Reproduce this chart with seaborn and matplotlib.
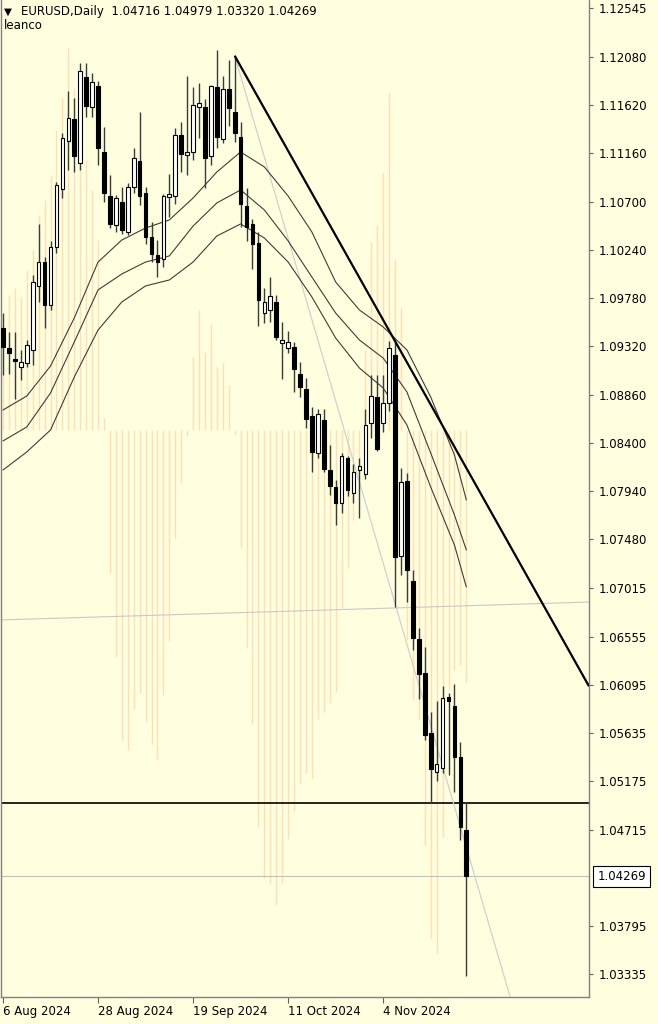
import numpy as np
import matplotlib
matplotlib.use("Agg")
import matplotlib.pyplot as plt
import seaborn as sns

# ---------------- data ----------------
dates = ["2024-08-06", "2024-08-07", "2024-08-08", "2024-08-09", "2024-08-12", "2024-08-13", "2024-08-14",
         "2024-08-15", "2024-08-16", "2024-08-19", "2024-08-20", "2024-08-21", "2024-08-22", "2024-08-23",
         "2024-08-26", "2024-08-27", "2024-08-28", "2024-08-29", "2024-08-30", "2024-09-02", "2024-09-03",
         "2024-09-04", "2024-09-05", "2024-09-06", "2024-09-09", "2024-09-10", "2024-09-11", "2024-09-12",
         "2024-09-13", "2024-09-16", "2024-09-17", "2024-09-18", "2024-09-19", "2024-09-20", "2024-09-23",
         "2024-09-24", "2024-09-25", "2024-09-26", "2024-09-27", "2024-09-30", "2024-10-01", "2024-10-02",
         "2024-10-03", "2024-10-04", "2024-10-07", "2024-10-08", "2024-10-09", "2024-10-10", "2024-10-11",
         "2024-10-14", "2024-10-15", "2024-10-16", "2024-10-17", "2024-10-18", "2024-10-21", "2024-10-22",
         "2024-10-23", "2024-10-24", "2024-10-25", "2024-10-28", "2024-10-29", "2024-10-30", "2024-10-31",
         "2024-11-01", "2024-11-04", "2024-11-05", "2024-11-06", "2024-11-07", "2024-11-08", "2024-11-11",
         "2024-11-12", "2024-11-13", "2024-11-14", "2024-11-15", "2024-11-18", "2024-11-19", "2024-11-20",
         "2024-11-21", "2024-11-22"]

opens = [1.0950, 1.0930, 1.0920, 1.0912, 1.0916, 1.0929, 1.0990, 1.1012, 1.0971, 1.1027,
         1.1082, 1.1128, 1.1149, 1.1107, 1.1189, 1.1160, 1.1180, 1.1117, 1.1075, 1.1048,
         1.1070, 1.1041, 1.1084, 1.1109, 1.1078, 1.1036, 1.1019, 1.1015, 1.1074, 1.1075,
         1.1133, 1.1114, 1.1117, 1.1160, 1.1160, 1.1113, 1.1179, 1.1130, 1.1177, 1.1155,
         1.1132, 1.1066, 1.1049, 1.1031, 1.0964, 1.0967, 1.0974, 1.0935, 1.0930, 1.0931,
         1.0906, 1.0891, 1.0866, 1.0830, 1.0862, 1.0814, 1.0798, 1.0783, 1.0826, 1.0792,
         1.0814, 1.0810, 1.0859, 1.0884, 1.0859, 1.0878, 1.0924, 1.0732, 1.0804, 1.0708,
         1.0653, 1.0621, 1.0564, 1.0526, 1.0530, 1.0598, 1.0589, 1.0541, 1.04716]
highs = [1.0964, 1.0946, 1.0946, 1.0929, 1.0938, 1.1000, 1.1049, 1.1017, 1.1032, 1.1089,
         1.1135, 1.1175, 1.1169, 1.1202, 1.1202, 1.1193, 1.1185, 1.1141, 1.1095, 1.1076,
         1.1084, 1.1088, 1.1121, 1.1155, 1.1084, 1.1051, 1.1033, 1.1077, 1.1096, 1.1140,
         1.1146, 1.1190, 1.1179, 1.1183, 1.1168, 1.1181, 1.1214, 1.1190, 1.1205, 1.1209,
         1.1146, 1.1083, 1.1053, 1.1041, 1.0988, 1.0998, 1.0981, 1.0955, 1.0947, 1.0936,
         1.0917, 1.0902, 1.0874, 1.0872, 1.0872, 1.0838, 1.0805, 1.0830, 1.0828, 1.0820,
         1.0826, 1.0872, 1.0905, 1.0905, 1.0905, 1.0937, 1.0937, 1.0816, 1.0811, 1.0719,
         1.0664, 1.0646, 1.0584, 1.0594, 1.0608, 1.0602, 1.0610, 1.0555, 1.04979]
lows = [1.0905, 1.0906, 1.0882, 1.0900, 1.0912, 1.0914, 1.0974, 1.0950, 1.0967, 1.1021,
        1.1073, 1.1100, 1.1098, 1.1100, 1.1151, 1.1151, 1.1105, 1.1070, 1.1045, 1.1041,
        1.1039, 1.1038, 1.1078, 1.1067, 1.1030, 1.1012, 1.0998, 1.1008, 1.1055, 1.1068,
        1.1098, 1.1095, 1.1110, 1.1131, 1.1083, 1.1105, 1.1121, 1.1126, 1.1142, 1.1127,
        1.1046, 1.1032, 1.1006, 1.0951, 1.0954, 1.0955, 1.0938, 1.0901, 1.0926, 1.0889,
        1.0884, 1.0854, 1.0812, 1.0826, 1.0812, 1.0790, 1.0762, 1.0773, 1.0789, 1.0783,
        1.0768, 1.0806, 1.0845, 1.0832, 1.0850, 1.0870, 1.0684, 1.0714, 1.0688, 1.0643,
        1.0596, 1.0557, 1.0497, 1.0518, 1.0525, 1.0524, 1.0507, 1.0462, 1.03320]
closes = [1.0931, 1.0926, 1.0918, 1.0917, 1.0933, 1.0993, 1.1012, 1.0971, 1.1027, 1.1086,
          1.1131, 1.1150, 1.1113, 1.1194, 1.1161, 1.1184, 1.1121, 1.1078, 1.1049, 1.1073,
          1.1043, 1.1084, 1.1112, 1.1075, 1.1036, 1.1020, 1.1012, 1.1075, 1.1077, 1.1133,
          1.1115, 1.1117, 1.1162, 1.1164, 1.1112, 1.1180, 1.1132, 1.1177, 1.1159, 1.1135,
          1.1068, 1.1046, 1.1030, 1.0976, 1.0974, 1.0980, 1.0941, 1.0938, 1.0936, 1.0910,
          1.0893, 1.0863, 1.0831, 1.0868, 1.0815, 1.0799, 1.0783, 1.0828, 1.0795, 1.0812,
          1.0818, 1.0857, 1.0885, 1.0834, 1.0878, 1.0930, 1.0731, 1.0803, 1.0719, 1.0654,
          1.0620, 1.0562, 1.0529, 1.0534, 1.0597, 1.0594, 1.0541, 1.0474, 1.04269]

# moving-average channel, read every 4th bar
ma_bar = [0, 4, 8, 12, 16, 20, 24, 28, 32, 36, 40, 44, 48, 52, 56, 60, 64, 68, 72, 76, 78]
ma_upper = [1.08714, 1.08847, 1.09133, 1.09591, 1.10124, 1.10334, 1.10448, 1.10525, 1.10734, 1.10982,
            1.11173, 1.11030, 1.10753, 1.10410, 1.09934, 1.09667, 1.09505, 1.09286, 1.08838, 1.08285, 1.07856]
ma_middle = [1.08419, 1.08552, 1.08876, 1.09362, 1.09858, 1.10010, 1.10124, 1.10182, 1.10467, 1.10687,
             1.10811, 1.10620, 1.10325, 1.09981, 1.09638, 1.09381, 1.09209, 1.08885, 1.08304, 1.07713, 1.07380]
ma_lower = [1.08142, 1.08314, 1.08523, 1.09028, 1.09476, 1.09743, 1.09896, 1.09953, 1.10124, 1.10372,
            1.10487, 1.10353, 1.10124, 1.09791, 1.09400, 1.09114, 1.08924, 1.08571, 1.07980, 1.07427, 1.07027]

# oscillator histogram drawn in the price window (one value per bar)
osc = [0.55, 1.35, 1.42, 1.33, 1.60, 1.80, 2.15, 2.30, 2.55, 3.00,
       3.32, 3.82, 3.42, 3.20, 2.70, 2.40, 1.90, 0.12, -1.43, -2.27,
       -3.10, -3.20, -2.79, -2.63, -2.92, -3.14, -3.30, -2.65, -2.11, -1.08,
       -0.53, -0.06, 0.73, 1.20, 0.78, 1.06, 0.63, 0.67, 0.45, -0.05,
       -1.18, -2.18, -2.94, -3.97, -4.48, -4.54, -4.75, -4.53, -4.09, -3.81,
       -3.54, -3.43, -3.48, -2.89, -2.82, -2.73, -2.62, -1.78, -1.38, -0.90,
       -0.40, 0.80, 1.88, 2.05, 2.57, 3.38, 1.70, 1.22, -2.10, -2.70,
       -2.90, -4.15, -5.08, -5.23, -4.07, -2.60, -2.40, -2.35, -2.53]
osc_base = 1.0852
osc_to_price = 0.00953

# drawn objects
trend_main_bar = [39, 66]
trend_main_price = [1.1209, 1.0937]
trend_thin_bar = [39, 86]
trend_thin_price = [1.1209, 1.0300]
flat_line_bar = [-0.5, 98.8]
flat_line_price = [1.06713, 1.06884]
support_level = 1.0497
bid_price = 1.04269

price_ticks = [1.12545, 1.12080, 1.11620, 1.11160, 1.10700, 1.10240, 1.09780, 1.09320, 1.08860,
               1.08400, 1.07940, 1.07480, 1.07015, 1.06555, 1.06095, 1.05635, 1.05175, 1.04715,
               1.03795, 1.03335]
price_tick_labels = ["%.5f" % p for p in price_ticks]
date_tick_bar = [0, 16, 32, 48, 64]
date_tick_labels = ["6 Aug 2024", "28 Aug 2024", "19 Sep 2024", "11 Oct 2024", "4 Nov 2024"]
header = "EURUSD,Daily  1.04716 1.04979 1.03320 1.04269"
broker = "leanco"

# ---------------- drawing ----------------
BG = "#FFFFE0"
sns.set_theme(style="white")
plt.rcParams["font.family"] = ["DejaVu Sans"]

W, H = 658, 1024
fig = plt.figure(figsize=(W / 100, H / 100), dpi=100, facecolor=BG)
ax = fig.add_axes([1 / W, 27 / H, 588 / W, 997 / H])
ax.set_facecolor(BG)

n = len(opens)
x = np.arange(n)
o = np.array(opens); h = np.array(highs); l = np.array(lows); c = np.array(closes)

ax.set_xlim(-0.337, 98.65)
ax.set_ylim(1.03120, 1.12621)

# oscillator histogram
osc_arr = np.array(osc)
ax.vlines(x, osc_base, osc_base + osc_arr * osc_to_price, color="#FFDDB5", lw=1.0, zorder=1)

# thin objects
ax.plot(flat_line_bar, flat_line_price, color="#C8C8C8", lw=0.8, zorder=2)
ax.axhline(bid_price, color="#C0C0C0", lw=0.8, zorder=2)
ax.axhline(support_level, color="black", lw=1.2, zorder=2)

sl = (trend_thin_price[1] - trend_thin_price[0]) / (trend_thin_bar[1] - trend_thin_bar[0])
xt = np.array([trend_thin_bar[0], trend_thin_bar[1]])
ax.plot(xt, trend_thin_price[0] + sl * (xt - xt[0]), color="#D0D0D0", lw=0.9, zorder=2)

# moving-average channel
for ys in (ma_upper, ma_middle, ma_lower):
    sns.lineplot(x=ma_bar, y=ys, ax=ax, color="#3C3C3C", lw=0.8, zorder=3)

# candles
ax.vlines(x, l, h, color="#3A3A3A", lw=1.0, zorder=4)
up = c >= o
bottom = np.minimum(o, c)
height = np.maximum(np.abs(c - o), 0.00005)
ax.bar(x[up], height[up], bottom=bottom[up], width=0.62, color="white",
       edgecolor="black", linewidth=0.8, zorder=5)
ax.bar(x[~up], height[~up], bottom=bottom[~up], width=0.62, color="black",
       edgecolor="black", linewidth=0.8, zorder=5)

# main trend line extended to the right edge
sm = (trend_main_price[1] - trend_main_price[0]) / (trend_main_bar[1] - trend_main_bar[0])
xe = np.array([trend_main_bar[0], 98.65])
ax.plot(xe, trend_main_price[0] + sm * (xe - xe[0]), color="black", lw=1.6, zorder=6,
        solid_capstyle="butt")

# axes styling
ax.spines["top"].set_visible(False)
for s in ("left", "right", "bottom"):
    ax.spines[s].set_color("#808080")
    ax.spines[s].set_linewidth(1.0)

ax.yaxis.tick_right()
ax.set_yticks(price_ticks)
ax.set_yticklabels(price_tick_labels)
ax.set_xticks(date_tick_bar)
ax.set_xticklabels(date_tick_labels)
for lbl in ax.get_xticklabels():
    lbl.set_ha("left")
ax.tick_params(axis="y", direction="out", length=3, width=0.8, color="#606060",
               labelsize=8.5, pad=4, labelcolor="black", right=True, left=False)
ax.tick_params(axis="x", direction="out", length=4, width=0.8, color="#606060",
               labelsize=8.5, pad=2, labelcolor="black", bottom=True)
ax.set_xlabel("")
ax.set_ylabel("")
ax.grid(False)

# bid box
ax.annotate("%.5f" % bid_price, xy=(1.0, bid_price), xycoords=("axes fraction", "data"),
            xytext=(6, 0), textcoords="offset points", ha="left", va="center", fontsize=8.5,
            color="black", zorder=10, annotation_clip=False,
            bbox=dict(boxstyle="square,pad=0.35", fc="white", ec="black", lw=0.8))

# header texts
fig.text(4 / W, 1 - 11.5 / H, "\u25BC", fontsize=7.5, va="center", ha="left", color="black")
fig.text(21 / W, 1 - 11.5 / H, header, fontsize=8.5, va="center", ha="left", color="black")
fig.text(4 / W, 1 - 25.5 / H, broker, fontsize=8.5, va="center", ha="left", color="black")

fig.savefig("out.png", dpi=100, facecolor=BG)
